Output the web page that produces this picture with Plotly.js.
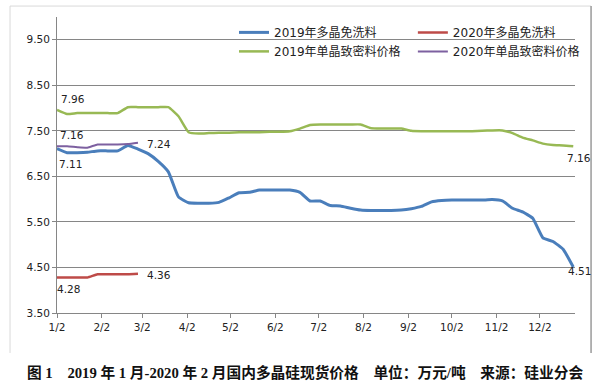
<!DOCTYPE html>
<html><head><meta charset="utf-8">
<script src="https://cdn.plot.ly/plotly-3.0.1.min.js"></script>
<style>html,body{margin:0;padding:0;background:#fff}#chart{width:600px;height:386px}</style>
</head><body><div id="chart"></div>
<script>
// ---- data ----
const dates2019 = ['2019-01-02','2019-01-09','2019-01-16','2019-01-23','2019-01-30','2019-02-06','2019-02-13','2019-02-20','2019-02-27',
  '2019-03-06','2019-03-13','2019-03-20','2019-03-27','2019-04-03','2019-04-10','2019-04-17','2019-04-24',
  '2019-05-01','2019-05-08','2019-05-15','2019-05-22','2019-05-29','2019-06-05','2019-06-12','2019-06-19','2019-06-26',
  '2019-07-03','2019-07-10','2019-07-17','2019-07-24','2019-07-31','2019-08-07','2019-08-14','2019-08-21','2019-08-28',
  '2019-09-04','2019-09-11','2019-09-18','2019-09-25','2019-10-02','2019-10-09','2019-10-16','2019-10-23','2019-10-30',
  '2019-11-06','2019-11-13','2019-11-20','2019-11-27','2019-12-04','2019-12-11','2019-12-18','2019-12-25'];
const poly2019 = [7.11,7.02,7.02,7.03,7.06,7.06,7.06,7.18,7.10,
  7.00,6.83,6.60,6.05,5.92,5.91,5.91,5.93,
  6.03,6.14,6.15,6.20,6.20,6.20,6.20,6.15,5.96,
  5.96,5.86,5.85,5.80,5.76,5.75,5.75,5.75,5.76,
  5.79,5.84,5.94,5.97,5.98,5.98,5.98,5.98,5.99,
  5.96,5.80,5.72,5.58,5.15,5.07,4.90,4.51];
const mono2019 = [7.96,7.87,7.89,7.89,7.89,7.89,7.89,8.02,8.02,
  8.02,8.02,8.02,7.82,7.47,7.44,7.45,7.46,
  7.46,7.47,7.47,7.47,7.48,7.48,7.49,7.55,7.63,
  7.64,7.64,7.64,7.64,7.64,7.56,7.55,7.55,7.55,
  7.50,7.49,7.49,7.49,7.49,7.49,7.49,7.50,7.51,
  7.51,7.45,7.35,7.29,7.22,7.19,7.18,7.16];
// 2020 series drawn on the same month/day positions
const dates2020 = ['2019-01-02','2019-01-09','2019-01-16','2019-01-23','2019-01-30','2019-02-06','2019-02-13','2019-02-20','2019-02-27'];
const poly2020 = [4.28,4.28,4.28,4.28,4.35,4.35,4.35,4.35,4.36];
const mono2020 = [7.16,7.16,7.14,7.13,7.20,7.20,7.20,7.21,7.24];

const seriesNames = ['2019年多晶免洗料','2020年多晶免洗料','2019年单晶致密料价格','2020年单晶致密料价格'];
const tickDates = ['2019-01-02','2019-02-02','2019-03-02','2019-04-02','2019-05-02','2019-06-02','2019-07-02','2019-08-02','2019-09-02','2019-10-02','2019-11-02','2019-12-02'];
const tickLabels = ['1/2','2/2','3/2','4/2','5/2','6/2','7/2','8/2','9/2','10/2','11/2','12/2'];
const yTicks = [3.5,4.5,5.5,6.5,7.5,8.5,9.5];
const captionText = '图 1　2019 年 1 月-2020 年 2 月国内多晶硅现货价格　单位：万元/吨　来源：硅业分会';

// ---- chart ----
const numFont = {family:'DejaVu Sans, sans-serif', size:10.5, color:'#222'};
const colors = ['#4a7ebb','#be4b48','#98b954','#7d60a0'];
const mk = (x,y,i,w,lg) => ({x:x, y:y, type:'scatter', mode:'lines', name:seriesNames[i], legend:lg,
  line:{color:colors[i], width:w, shape:'spline', smoothing:0.4}, hoverinfo:'skip'});
const traces = [
  mk(dates2019, poly2019, 0, 3, 'legend'),
  mk(dates2020, poly2020, 1, 2.5, 'legend2'),
  mk(dates2019, mono2019, 2, 2.5, 'legend'),
  mk(dates2020, mono2020, 3, 2, 'legend2')
];

const last = a => a[a.length-1];
const ann = (x,y,dx,dy) => ({x:x, y:y, text:y.toFixed(2), showarrow:false, xshift:dx, yshift:dy, font:numFont});
const annotations = [
  ann(dates2019[0], mono2019[0], 16, 11),
  ann(dates2020[0], mono2020[0], 15, 11),
  ann(dates2019[0], poly2019[0], 13, -15),
  ann(last(dates2020), last(mono2020), 21, -1),
  ann(last(dates2020), last(poly2020), 21, -1),
  ann(dates2020[0], poly2020[0], 11, -12),
  ann(last(dates2019), last(mono2019), 6, -12),
  ann(last(dates2019), last(poly2019), 6, -4),
  {xref:'paper', yref:'paper', x:0.5, y:-0.2, xanchor:'center', yanchor:'middle', showarrow:false,
   xshift:-11,
   text:'<b>'+captionText+'</b>', font:{family:'Liberation Serif, Noto Sans CJK SC, serif', size:14.7, color:'#111'}}
];

const legendFont = {family:'DejaVu Sans, Noto Sans CJK SC, sans-serif', size:12, color:'#222'};
const legendBase = {orientation:'v', xanchor:'left', y:0.997, yanchor:'top', tracegroupgap:0, itemwidth:30,
  bgcolor:'rgba(0,0,0,0)', borderwidth:0, font:legendFont};

const layout = {
  width:600, height:386,
  margin:{l:57, r:25, t:17, b:73},
  paper_bgcolor:'#fff', plot_bgcolor:'#fff',
  showlegend:true,
  legend:Object.assign({}, legendBase, {x:0.3417}),
  legend2:Object.assign({}, legendBase, {x:0.687}),
  xaxis:{type:'date', range:['2019-01-02','2019-12-26 05:00'], tickvals:tickDates, ticktext:tickLabels,
    showgrid:false, zeroline:false, showline:true, linecolor:'#868686', linewidth:1,
    ticks:'outside', ticklen:4, tickcolor:'#868686', tickfont:numFont, fixedrange:true, automargin:false},
  yaxis:{range:[3.5,10], tickvals:yTicks, ticktext:yTicks.map(v=>v.toFixed(2)),
    showgrid:true, gridcolor:'#868686', gridwidth:1, zeroline:false,
    showline:true, linecolor:'#868686', linewidth:1,
    ticks:'outside', ticklen:4, tickcolor:'#868686', tickfont:numFont, fixedrange:true, automargin:false},
  shapes:[
    {type:'line', xref:'paper', yref:'paper', x0:-0.0907, x1:-0.0907, y0:-0.135, y1:1.037, line:{color:'#d9d9d9', width:1}},
    {type:'line', xref:'paper', yref:'paper', x0:-0.0907, x1:1.031, y0:1.037, y1:1.037, line:{color:'#d9d9d9', width:1}},
    {type:'line', xref:'paper', yref:'paper', x0:1.031, x1:1.031, y0:-0.135, y1:1.037, line:{color:'#9a9a9a', width:1.5}}
  ],
  annotations:annotations
};
Plotly.newPlot('chart', traces, layout, {staticPlot:true, displayModeBar:false});
</script></body></html>
